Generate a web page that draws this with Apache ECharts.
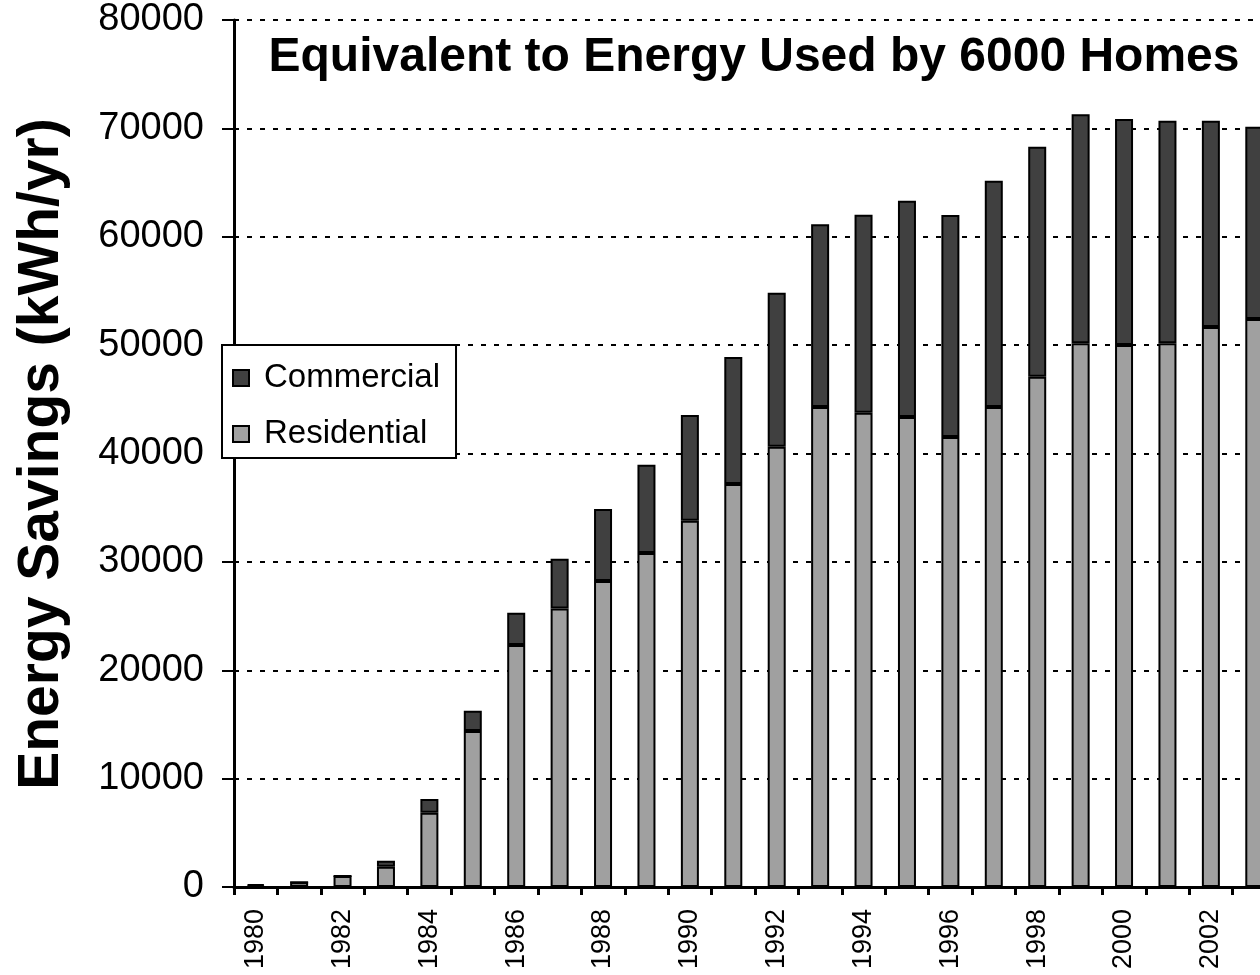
<!DOCTYPE html>
<html>
<head>
<meta charset="utf-8">
<script src="https://cdn.jsdelivr.net/npm/echarts@6/dist/echarts.min.js"></script>
<style>
html,body{margin:0;padding:0;background:#fff;}
#chart{width:1260px;height:975px;}
</style>
</head>
<body>
<div id="chart"></div>
<script>
const years = ['1980','1981','1982','1983','1984','1985','1986','1987','1988','1989','1990','1991','1992','1993','1994','1995','1996','1997','1998','1999','2000','2001','2002','2003'];
const residential = [100, 430, 1010, 1870, 6860, 14390, 22330, 25700, 28230, 30820, 33800, 37180, 40630, 44290, 43770, 43370, 41520, 44290, 47090, 50170, 50010, 50170, 51670, 52410];
const commercial = [150, 0, 0, 560, 1260, 1880, 2970, 4580, 6650, 8150, 9750, 11720, 14210, 16860, 18270, 19960, 20490, 20880, 21220, 21130, 20850, 20540, 19040, 17740];
const yTicks = [0, 10000, 20000, 30000, 40000, 50000, 60000, 70000, 80000];
const titleText = 'Equivalent to Energy Used by 6000 Homes';
const yName = 'Energy Savings (kWh/yr)';

const FONT = '"Liberation Sans", Arial, sans-serif';
const chart = echarts.init(document.getElementById('chart'), null, {renderer: 'canvas'});
chart.setOption({
  backgroundColor: '#ffffff',
  animation: false,
  grid: {left: 234, width: 1042, top: 20, bottom: 88, containLabel: false, outerBoundsMode: 'none'},
  legend: {
    data: ['Commercial', 'Residential'],
    orient: 'vertical',
    left: 222, top: 345,
    backgroundColor: '#ffffff',
    borderColor: '#000000', borderWidth: 2,
    padding: [16, 16, 7, 10],
    itemWidth: 16, itemHeight: 16, itemGap: 22,
    icon: 'rect',
    textStyle: {fontFamily: FONT, fontSize: 33, color: '#000', lineHeight: 34, padding: [0, 0, 0, 10]}
  },
  graphic: [
    {type: 'text', x: 754, y: 58, z: 100, style: {text: titleText, font: 'bold 48px ' + FONT, fill: '#000', textAlign: 'center', textVerticalAlign: 'middle'}},
    {type: 'text', x: 42, y: 454, rotation: Math.PI / 2, style: {text: yName, font: 'bold 57px ' + FONT, fill: '#000', textAlign: 'center', textVerticalAlign: 'middle'}}
  ],
  xAxis: {
    type: 'category',
    data: years,
    boundaryGap: true,
    axisLine: {show: true, lineStyle: {color: '#000', width: 3}},
    axisTick: {show: true, interval: 0, length: 8, inside: false, lineStyle: {color: '#000', width: 3}},
    axisLabel: {interval: 1, rotate: 90, fontFamily: FONT, fontSize: 27, color: '#000', margin: 22},
    splitLine: {show: false}
  },
  yAxis: {
    type: 'value',
    min: 0, max: 80000, interval: 10000,
    axisLine: {show: true, lineStyle: {color: '#000', width: 3}},
    axisTick: {show: true, length: 12, lineStyle: {color: '#000', width: 2}},
    axisLabel: {fontFamily: FONT, fontSize: 38, color: '#000', margin: 30,
      customValues: yTicks, formatter: function (v) { return String(v); }},
    splitLine: {show: true, lineStyle: {color: '#000', width: 2, type: [5, 8]}}
  },
  series: [
    {name: 'Residential', type: 'bar', stack: 'total', data: residential, barWidth: 18,
      itemStyle: {color: '#a0a0a0', borderColor: '#000', borderWidth: 2}},
    {name: 'Commercial', type: 'bar', stack: 'total', data: commercial, barWidth: 18,
      itemStyle: {color: '#404040', borderColor: '#000', borderWidth: 2}}
  ]
});
</script>
</body>
</html>
